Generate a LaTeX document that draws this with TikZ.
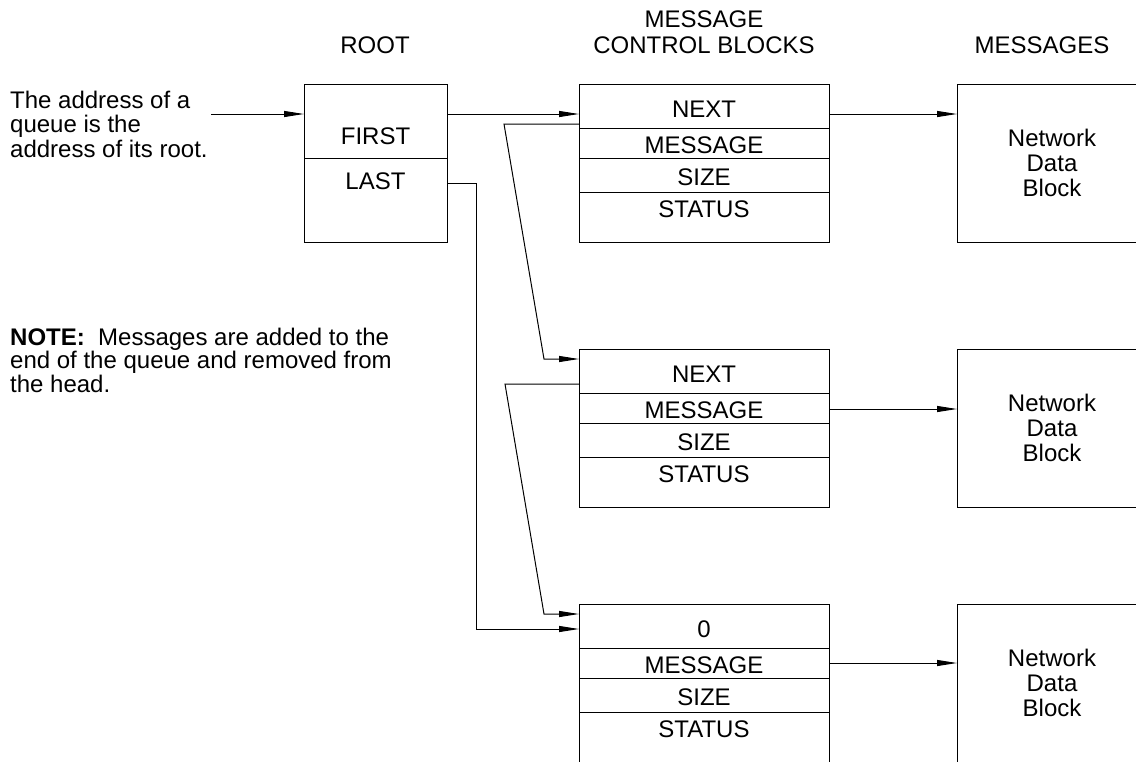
\documentclass[tikz,border=0pt]{standalone}
\usepackage{fontspec}
\setmainfont{Liberation Sans}
\usepackage{tikz}
\usetikzlibrary{calc, arrows.meta, positioning}

\tikzset{
  txt/.style={font=\fontsize{24}{24.5}\selectfont, inner sep=0pt},
  blk/.style={draw, line width=1pt, inner sep=0pt, outer sep=0pt,
    minimum width=250pt, minimum height=158pt, anchor=north west},
  ptr/.style={line width=1pt, -{Triangle[length=20pt,width=6pt]}},
  rule/.style={line width=1pt}
}

\begin{document}
\begin{tikzpicture}[x=1pt, y=-1pt]
    \useasboundingbox (0,0) rectangle (1136,761);

    % Tiêu đề các cột
    \node[txt, anchor=base] (troot) at (375,53) {ROOT};
    \node[txt, anchor=base, align=center, font=\fontsize{24}{26}\selectfont] (tmcb) at (704,53) {MESSAGE\\CONTROL BLOCKS};
    \node[txt, anchor=base] (tmsg) at (1042,53) {MESSAGES};

    % Ghi chú bên trái
    \node[txt, anchor=base west, align=left] (addr) at (10,157)
        {The address of a\\queue is the\\address of its root.};
    \node[txt, anchor=base west, align=left, font=\fontsize{24}{23.5}\selectfont] (note) at (10,392)
        {\textbf{NOTE:}\ \ Messages are added to the\\end of the queue and removed from\\the head.};

    % Gốc hàng đợi
    \node[blk, minimum width=143pt] (root) at (304,84) {};
    \draw[rule] ($(root.north west)+(0,74)$) -- ($(root.north east)+(0,74)$);
    \node[txt] (first) at ($(root.north)+(0,52)$) {FIRST};
    \node[txt] (last) at ($(root.north)+(0,97)$) {LAST};

    % Các khối điều khiển thông điệp
    \node[blk] (mcb1) at (579,84) {};
    \node[blk] (mcb2) at (579,349) {};
    \node[blk] (mcb3) at (579,604) {};
    \foreach \b/\f in {mcb1/NEXT, mcb2/NEXT, mcb3/0} {
        \foreach \d in {44.5, 74, 108.5}
            \draw[rule] ($(\b.north west)+(0,\d)$) -- ($(\b.north east)+(0,\d)$);
        \node[txt] (\b-next) at ($(\b.north)+(0,25)$) {\f};
        \node[txt] (\b-msg) at ($(\b.north)+(0,61)$) {MESSAGE};
        \node[txt] (\b-size) at ($(\b.north)+(0,93)$) {SIZE};
        \node[txt] (\b-stat) at ($(\b.north)+(0,125)$) {STATUS};
    }

    % Khối dữ liệu mạng
    \foreach \i/\y in {1/84, 2/349, 3/604}
        \node[blk, minimum width=190pt, align=center,
              font=\fontsize{24}{25}\selectfont] (mdb\i) at (957,\y) {Network\\Data\\Block};

    % Con trỏ
    \coordinate (qaddr) at (211,114);
    \draw[ptr] (qaddr) -- (root.west |- qaddr);
    \draw[ptr] (root.east |- qaddr) -- (mcb1.west |- qaddr);
    \draw[ptr] (mcb1.east |- qaddr) -- (mdb1.west |- qaddr);
    \draw[ptr] ($(mcb2.north east)+(0,60)$) -- ($(mdb2.north west)+(0,60)$);
    \draw[ptr] ($(mcb3.north east)+(0,59)$) -- ($(mdb3.north west)+(0,59)$);

    \draw[ptr] ($(mcb1.north west)+(0,40)$) -- ++(-75,0)
        -- ($(mcb2.north west)+(-35,10)$) -- ($(mcb2.north west)+(0,10)$);
    \draw[ptr] ($(mcb2.north west)+(0,35)$) -- ++(-74,0)
        -- ($(mcb3.north west)+(-35,10)$) -- ($(mcb3.north west)+(0,10)$);
    \draw[ptr] ($(root.north east)+(0,99)$) -- ++(29,0)
        |- ($(mcb3.north west)+(0,25)$);
\end{tikzpicture}
\end{document}
